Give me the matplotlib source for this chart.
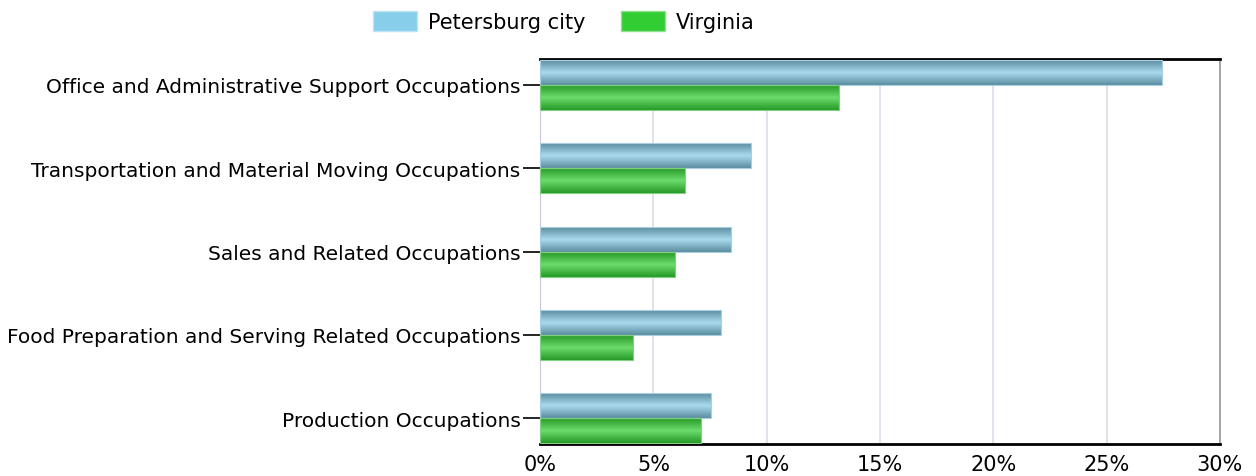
import matplotlib
matplotlib.use("Agg")
import matplotlib.pyplot as plt
import numpy as np
from matplotlib.colors import LinearSegmentedColormap
from matplotlib.patches import Patch

# data
occupations = [
    "Office and Administrative Support Occupations",
    "Transportation and Material Moving Occupations",
    "Sales and Related Occupations",
    "Food Preparation and Serving Related Occupations",
    "Production Occupations",
]
petersburg = [27.45, 9.31, 8.41, 7.97, 7.54]
virginia = [13.17, 6.41, 5.94, 4.08, 7.09]
series_names = ["Petersburg city", "Virginia"]
xticks = [0, 5, 10, 15, 20, 25, 30]

plt.rcParams['font.family'] = ['DejaVu Sans']

fig = plt.figure(figsize=(12.56, 4.77), dpi=100)
ax = fig.add_axes([0.43, 0.067, 0.5413, 0.807])

y = np.arange(len(occupations))
h = 0.3

# cylinder-like shading for each series: edge -> highlight -> edge
blue_cm = LinearSegmentedColormap.from_list("b", ["#5c8ea0", "#a9daee", "#5c8ea0"])
green_cm = LinearSegmentedColormap.from_list("g", ["#279a27", "#6cdc6c", "#279a27"])
grad = np.linspace(0, 1, 64).reshape(-1, 1)


def shaded_bars(vals, offset, cmap, edge):
    bars = ax.barh(y + offset, vals, height=h, color="none", edgecolor=edge,
                   linewidth=0.8, zorder=3)
    for b in bars:
        x0, y0 = b.get_x(), b.get_y()
        w, hh = b.get_width(), b.get_height()
        im = ax.imshow(grad, cmap=cmap, aspect="auto", zorder=2,
                       extent=[x0, x0 + w, y0 + hh, y0], interpolation="bilinear")
        im.set_clip_path(b)
    return bars


shaded_bars(petersburg, -h / 2, blue_cm, "#a8cfe0")
shaded_bars(virginia, h / 2, green_cm, "#7fd07f")

ax.set_xlim(0, 30)
ax.set_ylim(len(occupations) - 1 + 0.31, -0.31)
ax.set_xticks(xticks)
ax.set_xticklabels([f"{t}%" for t in xticks], fontsize=15)
ax.set_yticks(y)
ax.set_yticklabels(occupations, fontsize=14.5)
ax.tick_params(axis="y", length=12, width=1.2, color="black", pad=2)
ax.tick_params(axis="x", length=0, pad=7)

ax.grid(axis="x", color="#dcdcf0", linewidth=1.2, zorder=0)
ax.set_axisbelow(True)
for s in ["top", "bottom"]:
    ax.spines[s].set_color("black")
    ax.spines[s].set_linewidth(2)
ax.spines["left"].set_color("#c8c8e0")
ax.spines["right"].set_color("#999999")
ax.spines["right"].set_linewidth(1.2)

handles = [Patch(facecolor="#87ceeb", edgecolor="#bfe3f2"),
           Patch(facecolor="#32cd32", edgecolor="#8fe08f")]
fig.legend(handles, series_names, loc="upper center", ncol=2, frameon=False,
           bbox_to_anchor=(0.449, 1.015), fontsize=15, handlelength=2.1,
           handleheight=1.1, columnspacing=1.7, handletextpad=0.55)

fig.savefig("out.png", dpi=100)
